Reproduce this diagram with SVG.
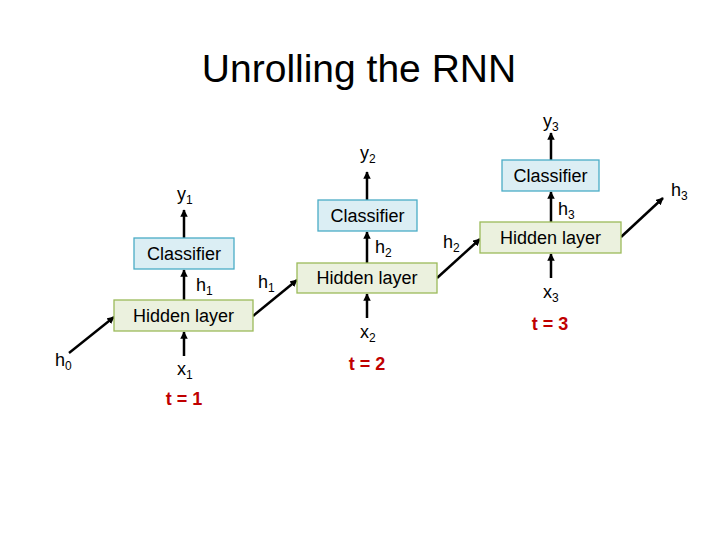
<svg xmlns="http://www.w3.org/2000/svg" width="720" height="540" viewBox="0 0 720 540">
<style>
text{font-family:"Liberation Sans",Arial,sans-serif;fill:#000}
.title{font-size:39px;text-anchor:middle}
.box{font-size:18px;text-anchor:middle}
.lbl{font-size:18px}
.sub{font-size:12px}
.t{font-size:18px;font-weight:bold;fill:#c00000;text-anchor:middle}
.cls{fill:#dbeef4;stroke:#4bacc6;stroke-width:1.3}
.hid{fill:#ebf1de;stroke:#9bbb59;stroke-width:1.3}
.ed{stroke:#000;stroke-width:2.5;fill:none;marker-end:url(#ah)}
</style>
<defs>
<marker id="ah" viewBox="0 0 10 10" refX="9" refY="5" markerWidth="3" markerHeight="3" orient="auto" markerUnits="strokeWidth">
<path d="M0,0 L10,5 L0,10 z" fill="#000"/>
</marker>
</defs>
<rect width="720" height="540" fill="#fff"/>
<text class="title" x="359" y="82">Unrolling the RNN</text>

<g id="connectors">
<line class="ed" x1="184" y1="238" x2="184" y2="210"/>
<line class="ed" x1="184" y1="300" x2="184" y2="270"/>
<line class="ed" x1="184" y1="356" x2="184" y2="332"/>
<line class="ed" x1="69" y1="353" x2="114" y2="317"/>
<line class="ed" x1="253" y1="316" x2="297" y2="280"/>
<line class="ed" x1="367" y1="200" x2="367" y2="172"/>
<line class="ed" x1="367" y1="263" x2="367" y2="232"/>
<line class="ed" x1="367" y1="318" x2="367" y2="294"/>
<line class="ed" x1="437" y1="278" x2="480" y2="239"/>
<line class="ed" x1="551" y1="160" x2="551" y2="133"/>
<line class="ed" x1="551" y1="222" x2="551" y2="192"/>
<line class="ed" x1="551" y1="278" x2="551" y2="254"/>
<line class="ed" x1="621" y1="237" x2="663" y2="198"/>
</g>

<g id="classifier1"><rect class="cls" x="134" y="238" width="100" height="31"/><text class="box" x="184" y="260">Classifier</text></g>
<g id="hidden1"><rect class="hid" x="114" y="300" width="139" height="31"/><text class="box" x="183.5" y="322">Hidden layer</text></g>
<g id="classifier2"><rect class="cls" x="318" y="200" width="99" height="31"/><text class="box" x="367.5" y="222">Classifier</text></g>
<g id="hidden2"><rect class="hid" x="297" y="263" width="140" height="30"/><text class="box" x="367" y="284">Hidden layer</text></g>
<g id="classifier3"><rect class="cls" x="502" y="160" width="97" height="31"/><text class="box" x="550.5" y="182">Classifier</text></g>
<g id="hidden3"><rect class="hid" x="480" y="222" width="141" height="31"/><text class="box" x="550.5" y="244">Hidden layer</text></g>

<g id="labels">
<text class="lbl" x="177" y="200">y<tspan class="sub" dy="4">1</tspan></text>
<text class="lbl" x="196" y="291">h<tspan class="sub" dy="4">1</tspan></text>
<text class="lbl" x="177" y="375">x<tspan class="sub" dy="4">1</tspan></text>
<text class="lbl" x="55" y="366">h<tspan class="sub" dy="4">0</tspan></text>
<text class="t" x="184" y="405">t = 1</text>

<text class="lbl" x="360" y="159">y<tspan class="sub" dy="4">2</tspan></text>
<text class="lbl" x="375" y="253">h<tspan class="sub" dy="4">2</tspan></text>
<text class="lbl" x="258" y="288">h<tspan class="sub" dy="4">1</tspan></text>
<text class="lbl" x="360" y="338">x<tspan class="sub" dy="4">2</tspan></text>
<text class="t" x="367" y="370">t = 2</text>

<text class="lbl" x="543" y="127">y<tspan class="sub" dy="4">3</tspan></text>
<text class="lbl" x="558" y="215">h<tspan class="sub" dy="4">3</tspan></text>
<text class="lbl" x="443" y="248">h<tspan class="sub" dy="4">2</tspan></text>
<text class="lbl" x="543" y="298">x<tspan class="sub" dy="4">3</tspan></text>
<text class="t" x="550" y="330">t = 3</text>
<text class="lbl" x="671" y="196">h<tspan class="sub" dy="4">3</tspan></text>
</g>
</svg>
